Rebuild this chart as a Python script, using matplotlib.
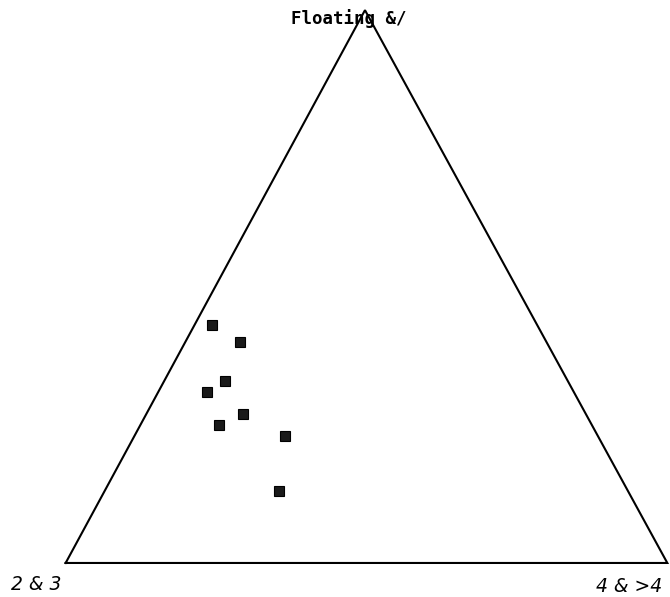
import numpy as np
import matplotlib.pyplot as plt

# ternary composition (percent) of each sample
floating = [43, 40, 33, 31, 27, 25, 23, 13]     # top corner
four_up = [3, 9, 10, 8, 16, 13, 25, 29]          # bottom right corner
two_three = [100 - f - r for f, r in zip(floating, four_up)]  # bottom left

corner_labels = ["Floating &/", "2 & 3", "4 & >4"]

# triangle is a bit taller than equilateral in the original
h = 553 / 600
top = (0.4975, h)


def to_xy(a, b, c):
    a = np.asarray(a) / 100.0
    c = np.asarray(c) / 100.0
    x = a * top[0] + c * 1.0
    y = a * top[1]
    return x, y


fig = plt.figure(figsize=(6.7, 5.97), dpi=100)
ax = fig.add_axes([0.098, 0.057, 0.898, 0.926])
ax.set_xlim(0, 1)
ax.set_ylim(0, h)
ax.axis('off')

tx = [0, 1, top[0], 0]
ty = [0, 0, top[1], 0]
ax.plot(tx, ty, color='black', lw=1.5, clip_on=False, solid_joinstyle='miter')

x, y = to_xy(floating, two_three, four_up)
ax.plot(x, y, 's', ms=6.5, mfc='#1a1a1a', mec='black', mew=0.8, ls='none')

fig.text(349 / 670, 1 - 19 / 597, corner_labels[0], ha='center', va='center',
         fontsize=12.5, fontweight='bold', family='DejaVu Sans Mono')
fig.text(36 / 670, 1 - 584 / 597, corner_labels[1], ha='center', va='center',
         fontsize=13.5, style='italic', family='DejaVu Sans')
fig.text(629 / 670, 1 - 586 / 597, corner_labels[2], ha='center', va='center',
         fontsize=13.5, style='italic', family='DejaVu Sans')

fig.savefig('out.png', dpi=100, facecolor='white')
